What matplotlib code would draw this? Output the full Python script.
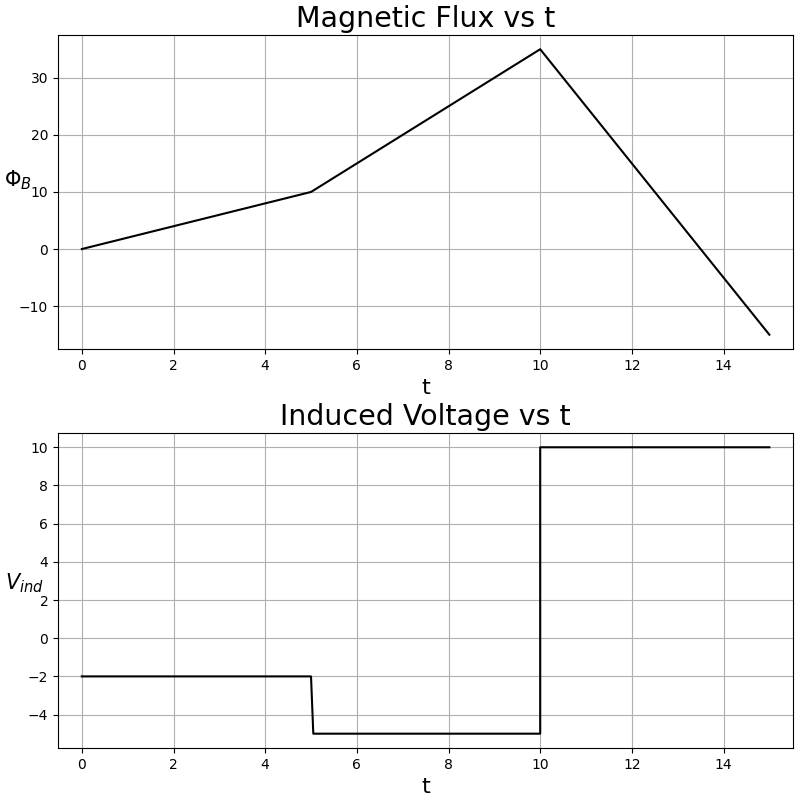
import numpy as np
import matplotlib.pyplot as plt

# flux breakpoints
t_flux = [0, 5, 10, 15]
phi_b = [0, 10, 35, -15]

# induced voltage (piecewise constant)
t_volt = [0, 5, 5.05, 10, 10, 15]
v_ind = [-2, -2, -5, -5, 10, 10]

fig = plt.figure(figsize=(8, 8), dpi=100)
ax1 = fig.add_axes([0.0725, 0.5638, 0.919, 0.3925])
ax2 = fig.add_axes([0.0725, 0.065, 0.919, 0.3938])

ax1.plot(t_flux, phi_b, color='k', lw=1.5)
ax1.set_title('Magnetic Flux vs t', fontsize=20.5)
ax1.set_xlabel('t', fontsize=16)
ax1.set_ylabel(r'$\Phi_B$', fontsize=15, rotation=0)
ax1.yaxis.set_label_coords(-0.054, 0.5)
ax1.set_xlim(-0.52, 15.52)
ax1.set_xticks(np.arange(0, 15, 2))
ax1.grid(True)

ax2.plot(t_volt, v_ind, color='k', lw=1.5)
ax2.set_title('Induced Voltage vs t', fontsize=20.5)
ax2.set_xlabel('t', fontsize=16)
ax2.set_ylabel(r'$V_{ind}$', fontsize=15, rotation=0)
ax2.yaxis.set_label_coords(-0.045, 0.485)
ax2.set_xlim(-0.52, 15.52)
ax2.set_xticks(np.arange(0, 15, 2))
ax2.grid(True)

fig.savefig('out.png', dpi=100)
